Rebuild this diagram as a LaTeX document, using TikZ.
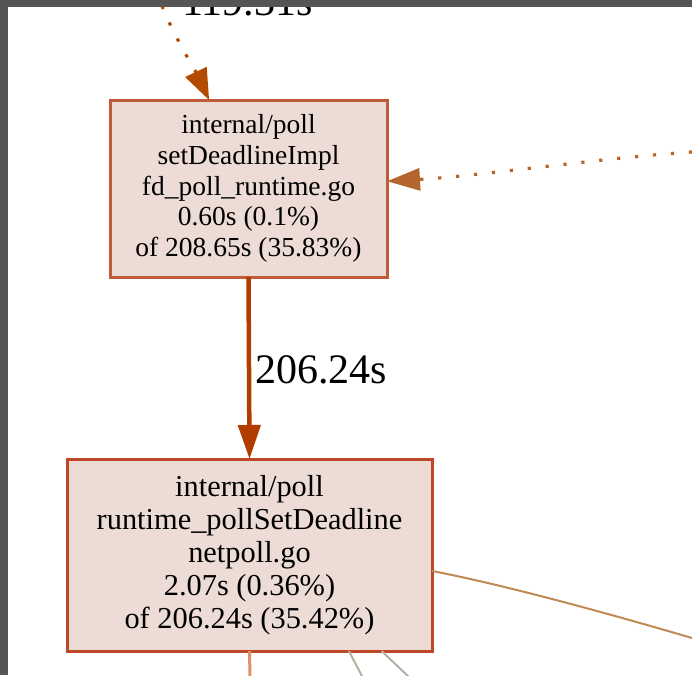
\documentclass[tikz,border=0pt]{standalone}
\usepackage{fontspec}
\setmainfont{Liberation Serif}
\usetikzlibrary{arrows.meta}

\definecolor{boxfill}{RGB}{237,220,213}
\definecolor{boxlineA}{RGB}{192,92,58}
\definecolor{boxlineB}{RGB}{188,72,40}
\definecolor{hotedge}{RGB}{178,60,0}
\definecolor{topedge}{RGB}{178,74,0}
\definecolor{warmedge}{RGB}{180,102,46}
\definecolor{tanedge}{RGB}{192,136,82}
\definecolor{lightedge}{RGB}{222,146,100}
\definecolor{grayedge}{RGB}{182,176,162}
\definecolor{framegray}{RGB}{85,85,85}

\tikzset{
  funcbox/.style={draw, fill=boxfill, line width=3pt, outer sep=0pt,
                  inner sep=0pt, align=center},
  dotline/.style={line width=3.2pt, dash pattern=on 3.2pt off 14.8pt},
  edgelabel/.style={inner sep=0pt, font=\fontsize{42}{44}\selectfont},
}

\begin{document}
\begin{tikzpicture}[x=1pt, y=-1pt]
  \useasboundingbox (0,0) rectangle (692,675);

  % function nodes
  \node[funcbox, draw=boxlineA, minimum width=277pt, minimum height=177pt,
        font=\fontsize{27.5}{30.75}\selectfont] (a) at (248.5,188.5)
    {internal/poll\\setDeadlineImpl\\fd\_poll\_runtime.go\\0.60s (0.1\%)\\of 208.65s (35.83\%)};
  \node[funcbox, draw=boxlineB, minimum width=365pt, minimum height=192pt,
        font=\fontsize{30.4}{33}\selectfont] (b) at (249.5,555)
    {internal/poll\\runtime\_pollSetDeadline\\netpoll.go\\2.07s (0.36\%)\\of 206.24s (35.42\%)};

  % loose ends of edges leaving the visible area
  \coordinate (t1) at (162,6);
  \coordinate (r1) at (692,152);
  \coordinate (r2) at (692,638);
  \coordinate (d1) at (250,678);
  \coordinate (g1) at (363,678);
  \coordinate (g2) at (410,678);

  % incoming calls
  \draw[dotline, topedge, -{Triangle[length=31pt,width=23pt]}]
    (t1) .. controls (175,38) and (195,70) .. (a.114);
  \draw[dotline, warmedge, -{Triangle[length=33pt,width=22pt]}]
    (r1) .. controls (600,158) and (480,176) .. (a.3.5);

  % hot path
  \draw[hotedge, line width=4.5pt, -{Triangle[length=34pt,width=22pt]}]
    (a.south) -- (b.north);

  % outgoing calls
  \draw[tanedge, line width=2pt]
    (b.-5.6) .. controls (500,584) and (600,611) .. (r2);
  \draw[lightedge, line width=3pt] (b.south) -- (d1);
  \draw[grayedge, line width=2pt] (b.-44.6) -- (g1);
  \draw[grayedge, line width=2pt] (b.-36.3) -- (g2);

  % edge labels
  \node[edgelabel, anchor=base west] (l1) at (182,15) {119.31s};
  \node[edgelabel, anchor=base west] (l2) at (255,383) {206.24s};

  % window frame
  \fill[framegray] (0,0) rectangle (692,7);
  \fill[framegray] (0,0) rectangle (8,675);
\end{tikzpicture}
\end{document}
